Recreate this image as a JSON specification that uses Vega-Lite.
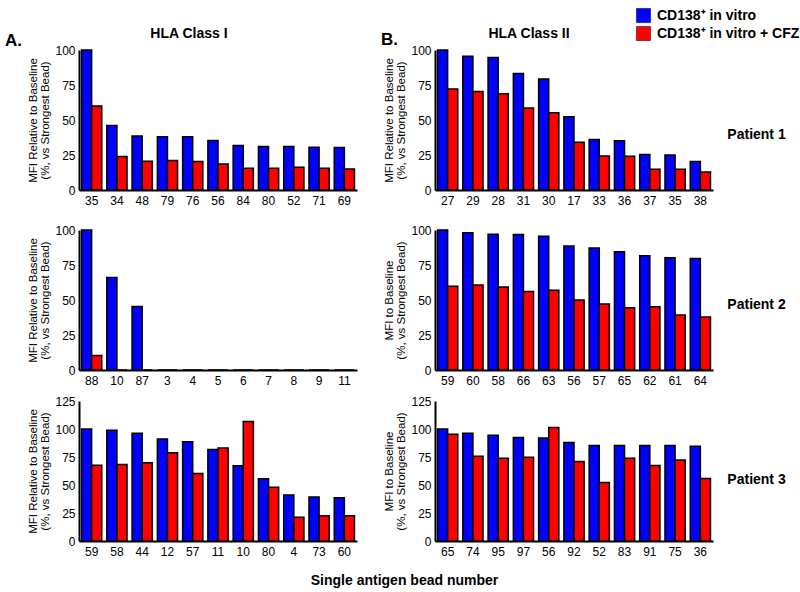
{
  "$schema": "https://vega.github.io/schema/vega-lite/v6.json",
  "padding": {"left": 5, "top": 8, "right": 5, "bottom": 5},
  "background": "white",
  "datasets": {
    "d": [
      {"panel": "A1", "bead": "35", "series": "CD138⁺ in vitro", "value": 100},
      {"panel": "A1", "bead": "35", "series": "CD138⁺ in vitro + CFZ", "value": 60},
      {"panel": "A1", "bead": "34", "series": "CD138⁺ in vitro", "value": 46},
      {"panel": "A1", "bead": "34", "series": "CD138⁺ in vitro + CFZ", "value": 24},
      {"panel": "A1", "bead": "48", "series": "CD138⁺ in vitro", "value": 38.5},
      {"panel": "A1", "bead": "48", "series": "CD138⁺ in vitro + CFZ", "value": 20.5},
      {"panel": "A1", "bead": "79", "series": "CD138⁺ in vitro", "value": 38},
      {"panel": "A1", "bead": "79", "series": "CD138⁺ in vitro + CFZ", "value": 21},
      {"panel": "A1", "bead": "76", "series": "CD138⁺ in vitro", "value": 38},
      {"panel": "A1", "bead": "76", "series": "CD138⁺ in vitro + CFZ", "value": 20.3},
      {"panel": "A1", "bead": "56", "series": "CD138⁺ in vitro", "value": 35.4},
      {"panel": "A1", "bead": "56", "series": "CD138⁺ in vitro + CFZ", "value": 18.5},
      {"panel": "A1", "bead": "84", "series": "CD138⁺ in vitro", "value": 31.8},
      {"panel": "A1", "bead": "84", "series": "CD138⁺ in vitro + CFZ", "value": 15.5},
      {"panel": "A1", "bead": "80", "series": "CD138⁺ in vitro", "value": 31},
      {"panel": "A1", "bead": "80", "series": "CD138⁺ in vitro + CFZ", "value": 15.5},
      {"panel": "A1", "bead": "52", "series": "CD138⁺ in vitro", "value": 31},
      {"panel": "A1", "bead": "52", "series": "CD138⁺ in vitro + CFZ", "value": 16.2},
      {"panel": "A1", "bead": "71", "series": "CD138⁺ in vitro", "value": 30.5},
      {"panel": "A1", "bead": "71", "series": "CD138⁺ in vitro + CFZ", "value": 15.5},
      {"panel": "A1", "bead": "69", "series": "CD138⁺ in vitro", "value": 30.3},
      {"panel": "A1", "bead": "69", "series": "CD138⁺ in vitro + CFZ", "value": 15},

      {"panel": "A2", "bead": "88", "series": "CD138⁺ in vitro", "value": 100},
      {"panel": "A2", "bead": "88", "series": "CD138⁺ in vitro + CFZ", "value": 10.3},
      {"panel": "A2", "bead": "10", "series": "CD138⁺ in vitro", "value": 66},
      {"panel": "A2", "bead": "10", "series": "CD138⁺ in vitro + CFZ", "value": 0},
      {"panel": "A2", "bead": "87", "series": "CD138⁺ in vitro", "value": 45.3},
      {"panel": "A2", "bead": "87", "series": "CD138⁺ in vitro + CFZ", "value": 0},
      {"panel": "A2", "bead": "3", "series": "CD138⁺ in vitro", "value": 0},
      {"panel": "A2", "bead": "3", "series": "CD138⁺ in vitro + CFZ", "value": 0},
      {"panel": "A2", "bead": "4", "series": "CD138⁺ in vitro", "value": 0},
      {"panel": "A2", "bead": "4", "series": "CD138⁺ in vitro + CFZ", "value": 0},
      {"panel": "A2", "bead": "5", "series": "CD138⁺ in vitro", "value": 0},
      {"panel": "A2", "bead": "5", "series": "CD138⁺ in vitro + CFZ", "value": 0},
      {"panel": "A2", "bead": "6", "series": "CD138⁺ in vitro", "value": 0},
      {"panel": "A2", "bead": "6", "series": "CD138⁺ in vitro + CFZ", "value": 0},
      {"panel": "A2", "bead": "7", "series": "CD138⁺ in vitro", "value": 0},
      {"panel": "A2", "bead": "7", "series": "CD138⁺ in vitro + CFZ", "value": 0},
      {"panel": "A2", "bead": "8", "series": "CD138⁺ in vitro", "value": 0},
      {"panel": "A2", "bead": "8", "series": "CD138⁺ in vitro + CFZ", "value": 0},
      {"panel": "A2", "bead": "9", "series": "CD138⁺ in vitro", "value": 0},
      {"panel": "A2", "bead": "9", "series": "CD138⁺ in vitro + CFZ", "value": 0},
      {"panel": "A2", "bead": "11", "series": "CD138⁺ in vitro", "value": 0},
      {"panel": "A2", "bead": "11", "series": "CD138⁺ in vitro + CFZ", "value": 0},

      {"panel": "A3", "bead": "59", "series": "CD138⁺ in vitro", "value": 100},
      {"panel": "A3", "bead": "59", "series": "CD138⁺ in vitro + CFZ", "value": 67.7},
      {"panel": "A3", "bead": "58", "series": "CD138⁺ in vitro", "value": 98.9},
      {"panel": "A3", "bead": "58", "series": "CD138⁺ in vitro + CFZ", "value": 68.3},
      {"panel": "A3", "bead": "44", "series": "CD138⁺ in vitro", "value": 96.2},
      {"panel": "A3", "bead": "44", "series": "CD138⁺ in vitro + CFZ", "value": 69.8},
      {"panel": "A3", "bead": "12", "series": "CD138⁺ in vitro", "value": 91.1},
      {"panel": "A3", "bead": "12", "series": "CD138⁺ in vitro + CFZ", "value": 78.8},
      {"panel": "A3", "bead": "57", "series": "CD138⁺ in vitro", "value": 88.7},
      {"panel": "A3", "bead": "57", "series": "CD138⁺ in vitro + CFZ", "value": 60.3},
      {"panel": "A3", "bead": "11", "series": "CD138⁺ in vitro", "value": 81.8},
      {"panel": "A3", "bead": "11", "series": "CD138⁺ in vitro + CFZ", "value": 83},
      {"panel": "A3", "bead": "10", "series": "CD138⁺ in vitro", "value": 67.1},
      {"panel": "A3", "bead": "10", "series": "CD138⁺ in vitro + CFZ", "value": 106.7},
      {"panel": "A3", "bead": "80", "series": "CD138⁺ in vitro", "value": 55.5},
      {"panel": "A3", "bead": "80", "series": "CD138⁺ in vitro + CFZ", "value": 48},
      {"panel": "A3", "bead": "4", "series": "CD138⁺ in vitro", "value": 41.1},
      {"panel": "A3", "bead": "4", "series": "CD138⁺ in vitro + CFZ", "value": 21.3},
      {"panel": "A3", "bead": "73", "series": "CD138⁺ in vitro", "value": 39.3},
      {"panel": "A3", "bead": "73", "series": "CD138⁺ in vitro + CFZ", "value": 22.5},
      {"panel": "A3", "bead": "60", "series": "CD138⁺ in vitro", "value": 38.7},
      {"panel": "A3", "bead": "60", "series": "CD138⁺ in vitro + CFZ", "value": 22.5},

      {"panel": "B1", "bead": "27", "series": "CD138⁺ in vitro", "value": 100},
      {"panel": "B1", "bead": "27", "series": "CD138⁺ in vitro + CFZ", "value": 72.1},
      {"panel": "B1", "bead": "29", "series": "CD138⁺ in vitro", "value": 95.5},
      {"panel": "B1", "bead": "29", "series": "CD138⁺ in vitro + CFZ", "value": 70.4},
      {"panel": "B1", "bead": "28", "series": "CD138⁺ in vitro", "value": 94.7},
      {"panel": "B1", "bead": "28", "series": "CD138⁺ in vitro + CFZ", "value": 68.7},
      {"panel": "B1", "bead": "31", "series": "CD138⁺ in vitro", "value": 83.3},
      {"panel": "B1", "bead": "31", "series": "CD138⁺ in vitro + CFZ", "value": 58.5},
      {"panel": "B1", "bead": "30", "series": "CD138⁺ in vitro", "value": 79.2},
      {"panel": "B1", "bead": "30", "series": "CD138⁺ in vitro + CFZ", "value": 55.1},
      {"panel": "B1", "bead": "17", "series": "CD138⁺ in vitro", "value": 52.3},
      {"panel": "B1", "bead": "17", "series": "CD138⁺ in vitro + CFZ", "value": 34.1},
      {"panel": "B1", "bead": "33", "series": "CD138⁺ in vitro", "value": 36},
      {"panel": "B1", "bead": "33", "series": "CD138⁺ in vitro + CFZ", "value": 24.3},
      {"panel": "B1", "bead": "36", "series": "CD138⁺ in vitro", "value": 35.1},
      {"panel": "B1", "bead": "36", "series": "CD138⁺ in vitro + CFZ", "value": 24.1},
      {"panel": "B1", "bead": "37", "series": "CD138⁺ in vitro", "value": 25.3},
      {"panel": "B1", "bead": "37", "series": "CD138⁺ in vitro + CFZ", "value": 14.8},
      {"panel": "B1", "bead": "35", "series": "CD138⁺ in vitro", "value": 25},
      {"panel": "B1", "bead": "35", "series": "CD138⁺ in vitro + CFZ", "value": 14.8},
      {"panel": "B1", "bead": "38", "series": "CD138⁺ in vitro", "value": 20.3},
      {"panel": "B1", "bead": "38", "series": "CD138⁺ in vitro + CFZ", "value": 12.9},

      {"panel": "B2", "bead": "59", "series": "CD138⁺ in vitro", "value": 100},
      {"panel": "B2", "bead": "59", "series": "CD138⁺ in vitro + CFZ", "value": 59.8},
      {"panel": "B2", "bead": "60", "series": "CD138⁺ in vitro", "value": 98.1},
      {"panel": "B2", "bead": "60", "series": "CD138⁺ in vitro + CFZ", "value": 60.8},
      {"panel": "B2", "bead": "58", "series": "CD138⁺ in vitro", "value": 96.9},
      {"panel": "B2", "bead": "58", "series": "CD138⁺ in vitro + CFZ", "value": 59.3},
      {"panel": "B2", "bead": "66", "series": "CD138⁺ in vitro", "value": 96.7},
      {"panel": "B2", "bead": "66", "series": "CD138⁺ in vitro + CFZ", "value": 56},
      {"panel": "B2", "bead": "63", "series": "CD138⁺ in vitro", "value": 95.5},
      {"panel": "B2", "bead": "63", "series": "CD138⁺ in vitro + CFZ", "value": 56.9},
      {"panel": "B2", "bead": "56", "series": "CD138⁺ in vitro", "value": 88.5},
      {"panel": "B2", "bead": "56", "series": "CD138⁺ in vitro + CFZ", "value": 50},
      {"panel": "B2", "bead": "57", "series": "CD138⁺ in vitro", "value": 87.1},
      {"panel": "B2", "bead": "57", "series": "CD138⁺ in vitro + CFZ", "value": 47.1},
      {"panel": "B2", "bead": "65", "series": "CD138⁺ in vitro", "value": 84.4},
      {"panel": "B2", "bead": "65", "series": "CD138⁺ in vitro + CFZ", "value": 44.5},
      {"panel": "B2", "bead": "62", "series": "CD138⁺ in vitro", "value": 81.6},
      {"panel": "B2", "bead": "62", "series": "CD138⁺ in vitro + CFZ", "value": 45.2},
      {"panel": "B2", "bead": "61", "series": "CD138⁺ in vitro", "value": 80.1},
      {"panel": "B2", "bead": "61", "series": "CD138⁺ in vitro + CFZ", "value": 39.2},
      {"panel": "B2", "bead": "64", "series": "CD138⁺ in vitro", "value": 79.7},
      {"panel": "B2", "bead": "64", "series": "CD138⁺ in vitro + CFZ", "value": 37.8},

      {"panel": "B3", "bead": "65", "series": "CD138⁺ in vitro", "value": 100},
      {"panel": "B3", "bead": "65", "series": "CD138⁺ in vitro + CFZ", "value": 95.3},
      {"panel": "B3", "bead": "74", "series": "CD138⁺ in vitro", "value": 96.2},
      {"panel": "B3", "bead": "74", "series": "CD138⁺ in vitro + CFZ", "value": 75.7},
      {"panel": "B3", "bead": "95", "series": "CD138⁺ in vitro", "value": 94.4},
      {"panel": "B3", "bead": "95", "series": "CD138⁺ in vitro + CFZ", "value": 73.9},
      {"panel": "B3", "bead": "97", "series": "CD138⁺ in vitro", "value": 92.5},
      {"panel": "B3", "bead": "97", "series": "CD138⁺ in vitro + CFZ", "value": 74.8},
      {"panel": "B3", "bead": "56", "series": "CD138⁺ in vitro", "value": 91.9},
      {"panel": "B3", "bead": "56", "series": "CD138⁺ in vitro + CFZ", "value": 101.3},
      {"panel": "B3", "bead": "92", "series": "CD138⁺ in vitro", "value": 88},
      {"panel": "B3", "bead": "92", "series": "CD138⁺ in vitro + CFZ", "value": 70.9},
      {"panel": "B3", "bead": "52", "series": "CD138⁺ in vitro", "value": 85.3},
      {"panel": "B3", "bead": "52", "series": "CD138⁺ in vitro + CFZ", "value": 52.3},
      {"panel": "B3", "bead": "83", "series": "CD138⁺ in vitro", "value": 85.3},
      {"panel": "B3", "bead": "83", "series": "CD138⁺ in vitro + CFZ", "value": 73.9},
      {"panel": "B3", "bead": "91", "series": "CD138⁺ in vitro", "value": 85.3},
      {"panel": "B3", "bead": "91", "series": "CD138⁺ in vitro + CFZ", "value": 67.3},
      {"panel": "B3", "bead": "75", "series": "CD138⁺ in vitro", "value": 85.3},
      {"panel": "B3", "bead": "75", "series": "CD138⁺ in vitro + CFZ", "value": 72.4},
      {"panel": "B3", "bead": "36", "series": "CD138⁺ in vitro", "value": 84.7},
      {"panel": "B3", "bead": "36", "series": "CD138⁺ in vitro + CFZ", "value": 55.9}
    ]
  },
  "title": {"text": "Single antigen bead number", "orient": "bottom", "anchor": "middle", "fontSize": 14, "fontWeight": "bold", "font": "Liberation Sans", "offset": 17, "dx": 2, "color": "black"},
  "spacing": 24,
  "hconcat": [
    {
      "title": {"text": "A.", "anchor": "start", "frame": "group", "fontSize": 17, "dx": -74, "dy": 27},
      "spacing": 9,
      "vconcat": [
        {
          "spacing": 18,
          "vconcat": [
            {
              "title": {"text": "HLA Class I", "anchor": "middle", "frame": "group", "fontSize": 14, "offset": 3, "dx": -29},
              "data": {"name": "d"},
              "transform": [{"filter": "datum.panel === 'A1'"}],
              "width": 278, "height": 140,
              "mark": {"type": "bar", "stroke": "black", "strokeWidth": 1.5},
              "encoding": {
                "x": {"field": "bead", "type": "nominal", "sort": null, "axis": {"title": null, "labelAngle": 0}, "scale": {"paddingInner": 0.2, "paddingOuter": 0.1}},
                "xOffset": {"field": "series", "type": "nominal", "sort": null},
                "y": {"field": "value", "type": "quantitative", "scale": {"domain": [0, 100]}, "axis": {"values": [0, 25, 50, 75, 100], "title": ["MFI Relative to Baseline", "(%, vs Strongest Bead)"]}},
                "color": {"field": "series", "type": "nominal", "sort": null, "scale": {"domain": ["CD138⁺ in vitro", "CD138⁺ in vitro + CFZ"], "range": ["#0000ff", "#ff0000"]}, "legend": {"title": null}}
              }
            },
            {
              "data": {"name": "d"},
              "transform": [{"filter": "datum.panel === 'A2'"}],
              "width": 278, "height": 140,
              "mark": {"type": "bar", "stroke": "black", "strokeWidth": 1.5},
              "encoding": {
                "x": {"field": "bead", "type": "nominal", "sort": null, "axis": {"title": null, "labelAngle": 0}, "scale": {"paddingInner": 0.2, "paddingOuter": 0.1}},
                "xOffset": {"field": "series", "type": "nominal", "sort": null},
                "y": {"field": "value", "type": "quantitative", "scale": {"domain": [0, 100]}, "axis": {"values": [0, 25, 50, 75, 100], "title": ["MFI Relative to Baseline", "(%, vs Strongest Bead)"]}},
                "color": {"field": "series", "type": "nominal", "sort": null, "scale": {"domain": ["CD138⁺ in vitro", "CD138⁺ in vitro + CFZ"], "range": ["#0000ff", "#ff0000"]}, "legend": {"title": null}}
              }
            }
          ]
        },
        {
          "data": {"name": "d"},
          "transform": [{"filter": "datum.panel === 'A3'"}],
          "width": 278, "height": 140,
          "mark": {"type": "bar", "stroke": "black", "strokeWidth": 1.5},
          "encoding": {
            "x": {"field": "bead", "type": "nominal", "sort": null, "axis": {"title": null, "labelAngle": 0}, "scale": {"paddingInner": 0.2, "paddingOuter": 0.1}},
            "xOffset": {"field": "series", "type": "nominal", "sort": null},
            "y": {"field": "value", "type": "quantitative", "scale": {"domain": [0, 125]}, "axis": {"values": [0, 25, 50, 75, 100, 125], "title": ["MFI Relative to Baseline", "(%, vs Strongest Bead)"]}},
            "color": {"field": "series", "type": "nominal", "sort": null, "scale": {"domain": ["CD138⁺ in vitro", "CD138⁺ in vitro + CFZ"], "range": ["#0000ff", "#ff0000"]}, "legend": {"title": null}}
          }
        }
      ]
    },
    {
      "title": {"text": "B.", "anchor": "start", "frame": "group", "fontSize": 17, "dx": -54, "dy": 26},
      "spacing": 9,
      "vconcat": [
        {
          "spacing": 18,
          "vconcat": [
            {
              "title": {"text": "HLA Class II", "anchor": "middle", "frame": "group", "fontSize": 14, "offset": 3, "dx": 94},
              "vconcat": [
                {
                  "title": {"text": "Patient 1", "orient": "right", "angle": 0, "anchor": "middle", "align": "left", "baseline": "middle", "fontSize": 14, "offset": 14, "dx": -58, "dy": 15},
                  "data": {"name": "d"},
                  "transform": [{"filter": "datum.panel === 'B1'"}],
                  "width": 278, "height": 140,
                  "mark": {"type": "bar", "stroke": "black", "strokeWidth": 1.5},
                  "encoding": {
                    "x": {"field": "bead", "type": "nominal", "sort": null, "axis": {"title": null, "labelAngle": 0}, "scale": {"paddingInner": 0.2, "paddingOuter": 0.1}},
                    "xOffset": {"field": "series", "type": "nominal", "sort": null},
                    "y": {"field": "value", "type": "quantitative", "scale": {"domain": [0, 100]}, "axis": {"values": [0, 25, 50, 75, 100], "title": ["MFI Relative to Baseline", "(%, vs Strongest Bead)"]}},
                    "color": {"field": "series", "type": "nominal", "sort": null, "scale": {"domain": ["CD138⁺ in vitro", "CD138⁺ in vitro + CFZ"], "range": ["#0000ff", "#ff0000"]}, "legend": {"title": null}}
                  }
                }
              ]
            },
            {
              "title": {"text": "Patient 2", "orient": "right", "angle": 0, "anchor": "middle", "align": "left", "baseline": "middle", "fontSize": 14, "offset": 14, "dx": -58, "dy": 5},
              "data": {"name": "d"},
              "transform": [{"filter": "datum.panel === 'B2'"}],
              "width": 278, "height": 140,
              "mark": {"type": "bar", "stroke": "black", "strokeWidth": 1.5},
              "encoding": {
                "x": {"field": "bead", "type": "nominal", "sort": null, "axis": {"title": null, "labelAngle": 0}, "scale": {"paddingInner": 0.2, "paddingOuter": 0.1}},
                "xOffset": {"field": "series", "type": "nominal", "sort": null},
                "y": {"field": "value", "type": "quantitative", "scale": {"domain": [0, 100]}, "axis": {"values": [0, 25, 50, 75, 100], "title": ["MFI to Baseline", "(%, vs Strongest Bead)"]}},
                "color": {"field": "series", "type": "nominal", "sort": null, "scale": {"domain": ["CD138⁺ in vitro", "CD138⁺ in vitro + CFZ"], "range": ["#0000ff", "#ff0000"]}, "legend": {"title": null}}
              }
            }
          ]
        },
        {
          "title": {"text": "Patient 3", "orient": "right", "angle": 0, "anchor": "middle", "align": "left", "baseline": "middle", "fontSize": 14, "offset": 14, "dx": -58, "dy": 9},
          "data": {"name": "d"},
          "transform": [{"filter": "datum.panel === 'B3'"}],
          "width": 278, "height": 140,
          "mark": {"type": "bar", "stroke": "black", "strokeWidth": 1.5},
          "encoding": {
            "x": {"field": "bead", "type": "nominal", "sort": null, "axis": {"title": null, "labelAngle": 0}, "scale": {"paddingInner": 0.2, "paddingOuter": 0.1}},
            "xOffset": {"field": "series", "type": "nominal", "sort": null},
            "y": {"field": "value", "type": "quantitative", "scale": {"domain": [0, 125]}, "axis": {"values": [0, 25, 50, 75, 100, 125], "title": ["MFI to Baseline", "(%, vs Strongest Bead)"]}},
            "color": {"field": "series", "type": "nominal", "sort": null, "scale": {"domain": ["CD138⁺ in vitro", "CD138⁺ in vitro + CFZ"], "range": ["#0000ff", "#ff0000"]}, "legend": {"title": null}}
          }
        }
      ]
    }
  ],
  "config": {
    "font": "Liberation Sans",
    "view": {"stroke": null},
    "title": {"font": "Liberation Sans", "fontWeight": "bold", "color": "black"},
    "axis": {
      "domainColor": "black", "domainWidth": 2, "ticks": false, "grid": false,
      "labelFont": "Liberation Sans", "labelFontSize": 12, "labelColor": "black", "labelPadding": 4,
      "titleFont": "Liberation Sans", "titleFontSize": 11.5, "titleFontWeight": "normal", "titleColor": "black", "titlePadding": 4, "titleLineHeight": 12
    },
    "axisX": {"labelPadding": 5},
    "legend": {
      "orient": "none", "legendX": 557, "legendY": -42,
      "labelFont": "Liberation Sans", "labelFontSize": 14, "labelFontWeight": "bold", "labelColor": "black",
      "symbolType": "square", "symbolSize": 200, "symbolStrokeColor": "black", "symbolStrokeWidth": 0.5, "symbolOpacity": 1,
      "rowPadding": 1, "labelOffset": 6
    }
  }
}
